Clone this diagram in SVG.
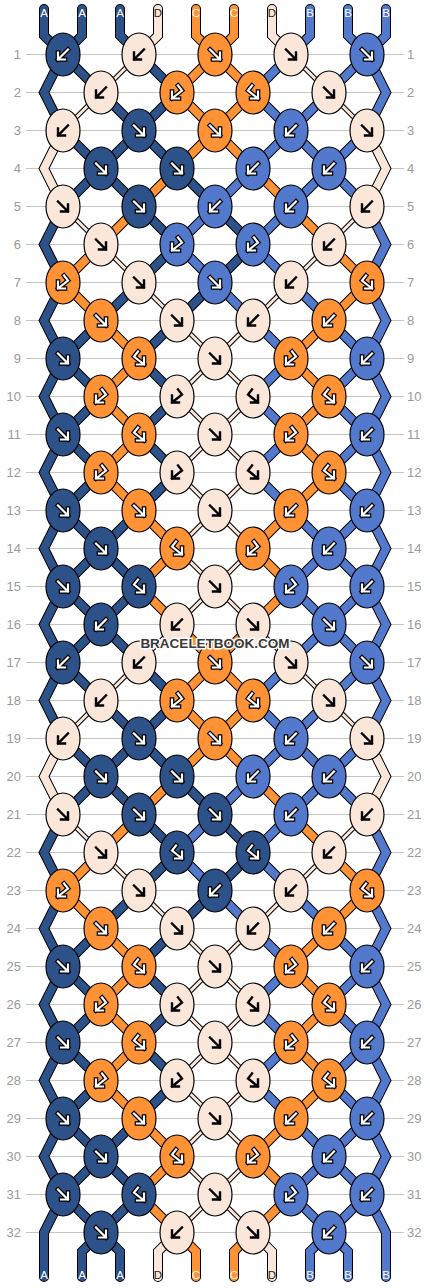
<svg xmlns="http://www.w3.org/2000/svg" xmlns:xlink="http://www.w3.org/1999/xlink" width="430" height="1288" viewBox="0 0 430 1288">
<style>
.grid{fill:none;stroke:#c4c4c4;stroke-width:1}
.rl{font-family:"Liberation Sans",Arial,sans-serif;font-size:13px;fill:#9a9a9a}
.rl.l{text-anchor:end}
.sl{font-family:"Liberation Sans",Arial,sans-serif;font-size:11.5px;text-anchor:middle;fill:#fff}
.sl.d{fill:#222}
.str use{fill:none;stroke-linecap:round;stroke-linejoin:miter}
.o{stroke:#000;stroke-width:10}
.ot{stroke:#000;stroke-width:5}
.cA{stroke:#2c5289;stroke-width:8}
.cB{stroke:#5279cc;stroke-width:8}
.cC{stroke:#fe9234;stroke-width:8}
.cD{stroke:#fbe7da;stroke-width:8}
.cDt{stroke:#fbe7da;stroke-width:3}
.wm{font-family:"Liberation Sans",Arial,sans-serif;font-size:13.5px;font-weight:bold;text-anchor:middle;fill:#383838;stroke:#fff;stroke-width:3;paint-order:stroke;stroke-linejoin:round}
</style>
<defs>
<path id="f" fill="none" stroke-linecap="square" stroke-linejoin="miter" d="M-5,-5L5,5M-2,5H5V-2"/>
<path id="b" fill="none" stroke-linecap="square" stroke-linejoin="miter" d="M5,-5L-5,5M2,5H-5V-2"/>
<path id="fb" fill="none" stroke-linecap="square" stroke-linejoin="miter" d="M-1,-7L-5,-2L5,6M-2,6H5V-1"/>
<path id="bf" fill="none" stroke-linecap="square" stroke-linejoin="miter" d="M1,-7L5,-2L-5,6M2,6H-5V-1"/>
<ellipse id="eA" rx="17" ry="21.5" fill="#2c5289" stroke="#000" stroke-width="1.2"/>
<ellipse id="eB" rx="17" ry="21.5" fill="#5279cc" stroke="#000" stroke-width="1.2"/>
<ellipse id="eC" rx="17" ry="21.5" fill="#fe9234" stroke="#000" stroke-width="1.2"/>
<ellipse id="eD" rx="17" ry="21.5" fill="#fbe7da" stroke="#000" stroke-width="1.2"/>
<g id="Af"><use href="#eA"/><use href="#f" stroke="#000" stroke-width="4.6"/><use href="#f" stroke="#fff" stroke-width="2.2"/></g>
<g id="Ab"><use href="#eA"/><use href="#b" stroke="#000" stroke-width="4.6"/><use href="#b" stroke="#fff" stroke-width="2.2"/></g>
<g id="Afb"><use href="#eA"/><use href="#fb" stroke="#000" stroke-width="4.6"/><use href="#fb" stroke="#fff" stroke-width="2.2"/></g>
<g id="Bf"><use href="#eB"/><use href="#f" stroke="#000" stroke-width="4.6"/><use href="#f" stroke="#fff" stroke-width="2.2"/></g>
<g id="Bb"><use href="#eB"/><use href="#b" stroke="#000" stroke-width="4.6"/><use href="#b" stroke="#fff" stroke-width="2.2"/></g>
<g id="Bbf"><use href="#eB"/><use href="#bf" stroke="#000" stroke-width="4.6"/><use href="#bf" stroke="#fff" stroke-width="2.2"/></g>
<g id="Cf"><use href="#eC"/><use href="#f" stroke="#000" stroke-width="4.6"/><use href="#f" stroke="#fff" stroke-width="2.2"/></g>
<g id="Cb"><use href="#eC"/><use href="#b" stroke="#000" stroke-width="4.6"/><use href="#b" stroke="#fff" stroke-width="2.2"/></g>
<g id="Cfb"><use href="#eC"/><use href="#fb" stroke="#000" stroke-width="4.6"/><use href="#fb" stroke="#fff" stroke-width="2.2"/></g>
<g id="Cbf"><use href="#eC"/><use href="#bf" stroke="#000" stroke-width="4.6"/><use href="#bf" stroke="#fff" stroke-width="2.2"/></g>
<g id="Df"><use href="#eD"/><use href="#f" stroke="#000" stroke-width="2.4"/></g>
<g id="Db"><use href="#eD"/><use href="#b" stroke="#000" stroke-width="2.4"/></g>
<g id="Dfb"><use href="#eD"/><use href="#fb" stroke="#000" stroke-width="2.4"/></g>
<g id="Dbf"><use href="#eD"/><use href="#bf" stroke="#000" stroke-width="2.4"/></g>
<path id="pA" d="M44,-7.5V19L63,38L44,76L63,114M63,190L44,228L63,266L44,304L63,342L44,380L63,418L44,456L63,494L44,532L63,570L44,608L63,646L44,684L63,722M63,798L44,836L63,874L44,912L63,950L44,988L63,1026L44,1064L63,1102L44,1140L63,1178L44,1216V1260.5M82,-7.5V19L63,38L101,76M63,114L101,152L63,190M101,304L63,342L101,380L63,418L101,456L63,494L101,532L63,570L101,608L63,646L101,684M63,722L101,760L63,798M101,912L63,950L101,988L63,1026L101,1064L63,1102L101,1140L63,1178L101,1216L82,1235V1260.5M120,-7.5V19L139,38M101,76L139,114L101,152L139,190M139,266L101,304M139,494L101,532L139,570L101,608L139,646M101,684L139,722L101,760L139,798M139,874L101,912M139,1102L101,1140L139,1178L101,1216L120,1235V1260.5M139,38L177,76L139,114L177,152M139,190L177,228L139,266M177,304L139,342L177,380L139,418L177,456L139,494M139,646L177,684L139,722L177,760M139,798L177,836L139,874M177,912L139,950L177,988L139,1026L177,1064L139,1102M177,152L215,190M215,266L177,304M177,760L215,798M215,874L177,912M215,190L253,228L215,266M215,798L253,836L215,874"/>
<path id="pB" d="M386,-7.5V19L367,38L386,76L367,114M367,190L386,228L367,266L386,304L367,342L386,380L367,418L386,456L367,494L386,532L367,570L386,608L367,646L386,684L367,722M367,798L386,836L367,874L386,912L367,950L386,988L367,1026L386,1064L367,1102L386,1140L367,1178L386,1216V1260.5M348,-7.5V19L367,38L329,76M367,114L329,152L367,190M329,304L367,342L329,380L367,418L329,456L367,494L329,532L367,570L329,608L367,646L329,684M367,722L329,760L367,798M329,912L367,950L329,988L367,1026L329,1064L367,1102L329,1140L367,1178L329,1216L348,1235V1260.5M310,-7.5V19L291,38M329,76L291,114L329,152L291,190M291,266L329,304M291,494L329,532L291,570L329,608L291,646M329,684L291,722L329,760L291,798M291,874L329,912M291,1102L329,1140L291,1178L329,1216L310,1235V1260.5M291,38L253,76L291,114L253,152M291,190L253,228L291,266M253,304L291,342L253,380L291,418L253,456L291,494M291,646L253,684L291,722L253,760M291,798L253,836L291,874M253,912L291,950L253,988L291,1026L253,1064L291,1102M253,152L215,190M215,266L253,304M253,760L215,798M215,874L253,912M215,190L177,228L215,266M215,798L177,836L215,874"/>
<path id="pC" d="M101,228L63,266L101,304M101,836L63,874L101,912M329,228L367,266L329,304M329,836L367,874L329,912M139,190L101,228M101,304L139,342L101,380L139,418L101,456L139,494M139,798L101,836M101,912L139,950L101,988L139,1026L101,1064L139,1102M291,190L329,228M329,304L291,342L329,380L291,418L329,456L291,494M291,798L329,836M329,912L291,950L329,988L291,1026L329,1064L291,1102M177,152L139,190M139,494L177,532L139,570L177,608M177,760L139,798M139,1102L177,1140L139,1178L177,1216M253,152L291,190M291,494L253,532L291,570L253,608M253,760L291,798M291,1102L253,1140L291,1178L253,1216M196,-7.5V19L215,38L177,76L215,114L177,152M177,608L215,646L177,684L215,722L177,760M177,1216L196,1235V1260.5M234,-7.5V19L215,38L253,76L215,114L253,152M253,608L215,646L253,684L215,722L253,760M253,1216L234,1235V1260.5"/>
<path id="pD" d="M63,114L44,152L63,190M63,722L44,760L63,798M367,114L386,152L367,190M367,722L386,760L367,798M158,-7.5V19L139,38M272,-7.5V19L291,38M177,1216L158,1235V1260.5M253,1216L272,1235V1260.5"/>
<path id="pDt" d="M101,76L63,114M63,190L101,228M101,684L63,722M63,798L101,836M329,76L367,114M367,190L329,228M329,684L367,722M367,798L329,836M139,38L101,76M101,228L139,266M139,646L101,684M101,836L139,874M291,38L329,76M329,228L291,266M291,646L329,684M329,836L291,874M139,266L177,304M177,608L139,646M139,874L177,912M291,266L253,304M253,608L291,646M291,874L253,912M177,304L215,342L177,380L215,418L177,456L215,494L177,532L215,570L177,608M177,912L215,950L177,988L215,1026L177,1064L215,1102L177,1140L215,1178L177,1216M253,304L215,342L253,380L215,418L253,456L215,494L253,532L215,570L253,608M253,912L215,950L253,988L215,1026L253,1064L215,1102L253,1140L215,1178L253,1216"/>
</defs>
<rect width="430" height="1288" fill="#fff"/>
<g transform="translate(0,16.5)">
<path class="grid" d="M26,38H404M26,76H404M26,114H404M26,152H404M26,190H404M26,228H404M26,266H404M26,304H404M26,342H404M26,380H404M26,418H404M26,456H404M26,494H404M26,532H404M26,570H404M26,608H404M26,646H404M26,684H404M26,722H404M26,760H404M26,798H404M26,836H404M26,874H404M26,912H404M26,950H404M26,988H404M26,1026H404M26,1064H404M26,1102H404M26,1140H404M26,1178H404M26,1216H404"/>
<g id="rowlabels">
<text class="rl l" x="21" y="42.6">1</text><text class="rl" x="407" y="42.6">1</text>
<text class="rl l" x="21" y="80.6">2</text><text class="rl" x="407" y="80.6">2</text>
<text class="rl l" x="21" y="118.6">3</text><text class="rl" x="407" y="118.6">3</text>
<text class="rl l" x="21" y="156.6">4</text><text class="rl" x="407" y="156.6">4</text>
<text class="rl l" x="21" y="194.6">5</text><text class="rl" x="407" y="194.6">5</text>
<text class="rl l" x="21" y="232.6">6</text><text class="rl" x="407" y="232.6">6</text>
<text class="rl l" x="21" y="270.6">7</text><text class="rl" x="407" y="270.6">7</text>
<text class="rl l" x="21" y="308.6">8</text><text class="rl" x="407" y="308.6">8</text>
<text class="rl l" x="21" y="346.6">9</text><text class="rl" x="407" y="346.6">9</text>
<text class="rl l" x="21" y="384.6">10</text><text class="rl" x="407" y="384.6">10</text>
<text class="rl l" x="21" y="422.6">11</text><text class="rl" x="407" y="422.6">11</text>
<text class="rl l" x="21" y="460.6">12</text><text class="rl" x="407" y="460.6">12</text>
<text class="rl l" x="21" y="498.6">13</text><text class="rl" x="407" y="498.6">13</text>
<text class="rl l" x="21" y="536.6">14</text><text class="rl" x="407" y="536.6">14</text>
<text class="rl l" x="21" y="574.6">15</text><text class="rl" x="407" y="574.6">15</text>
<text class="rl l" x="21" y="612.6">16</text><text class="rl" x="407" y="612.6">16</text>
<text class="rl l" x="21" y="650.6">17</text><text class="rl" x="407" y="650.6">17</text>
<text class="rl l" x="21" y="688.6">18</text><text class="rl" x="407" y="688.6">18</text>
<text class="rl l" x="21" y="726.6">19</text><text class="rl" x="407" y="726.6">19</text>
<text class="rl l" x="21" y="764.6">20</text><text class="rl" x="407" y="764.6">20</text>
<text class="rl l" x="21" y="802.6">21</text><text class="rl" x="407" y="802.6">21</text>
<text class="rl l" x="21" y="840.6">22</text><text class="rl" x="407" y="840.6">22</text>
<text class="rl l" x="21" y="878.6">23</text><text class="rl" x="407" y="878.6">23</text>
<text class="rl l" x="21" y="916.6">24</text><text class="rl" x="407" y="916.6">24</text>
<text class="rl l" x="21" y="954.6">25</text><text class="rl" x="407" y="954.6">25</text>
<text class="rl l" x="21" y="992.6">26</text><text class="rl" x="407" y="992.6">26</text>
<text class="rl l" x="21" y="1030.6">27</text><text class="rl" x="407" y="1030.6">27</text>
<text class="rl l" x="21" y="1068.6">28</text><text class="rl" x="407" y="1068.6">28</text>
<text class="rl l" x="21" y="1106.6">29</text><text class="rl" x="407" y="1106.6">29</text>
<text class="rl l" x="21" y="1144.6">30</text><text class="rl" x="407" y="1144.6">30</text>
<text class="rl l" x="21" y="1182.6">31</text><text class="rl" x="407" y="1182.6">31</text>
<text class="rl l" x="21" y="1220.6">32</text><text class="rl" x="407" y="1220.6">32</text>
</g>
<g id="connectors" class="str">
<use href="#pA" class="o"/><use href="#pB" class="o"/><use href="#pC" class="o"/><use href="#pD" class="o"/><use href="#pDt" class="ot"/>
<use href="#pA" class="cA"/><use href="#pB" class="cB"/><use href="#pC" class="cC"/><use href="#pD" class="cD"/><use href="#pDt" class="cDt"/>
</g>
<g id="knots">
<g id="k1-1" transform="translate(63,38)"><use href="#Ab"/></g><g id="k1-2" transform="translate(139,38)"><use href="#Db"/></g><g id="k1-3" transform="translate(215,38)"><use href="#Cf"/></g><g id="k1-4" transform="translate(291,38)"><use href="#Df"/></g><g id="k1-5" transform="translate(367,38)"><use href="#Bf"/></g>
<g id="k2-1" transform="translate(101,76)"><use href="#Db"/></g><g id="k2-2" transform="translate(177,76)"><use href="#Cbf"/></g><g id="k2-3" transform="translate(253,76)"><use href="#Cfb"/></g><g id="k2-4" transform="translate(329,76)"><use href="#Df"/></g>
<g id="k3-1" transform="translate(63,114)"><use href="#Db"/></g><g id="k3-2" transform="translate(139,114)"><use href="#Af"/></g><g id="k3-3" transform="translate(215,114)"><use href="#Cf"/></g><g id="k3-4" transform="translate(291,114)"><use href="#Bb"/></g><g id="k3-5" transform="translate(367,114)"><use href="#Df"/></g>
<g id="k4-1" transform="translate(101,152)"><use href="#Af"/></g><g id="k4-2" transform="translate(177,152)"><use href="#Af"/></g><g id="k4-3" transform="translate(253,152)"><use href="#Bb"/></g><g id="k4-4" transform="translate(329,152)"><use href="#Bb"/></g>
<g id="k5-1" transform="translate(63,190)"><use href="#Df"/></g><g id="k5-2" transform="translate(139,190)"><use href="#Af"/></g><g id="k5-3" transform="translate(215,190)"><use href="#Bb"/></g><g id="k5-4" transform="translate(291,190)"><use href="#Bb"/></g><g id="k5-5" transform="translate(367,190)"><use href="#Db"/></g>
<g id="k6-1" transform="translate(101,228)"><use href="#Df"/></g><g id="k6-2" transform="translate(177,228)"><use href="#Bbf"/></g><g id="k6-3" transform="translate(253,228)"><use href="#Bbf"/></g><g id="k6-4" transform="translate(329,228)"><use href="#Db"/></g>
<g id="k7-1" transform="translate(63,266)"><use href="#Cbf"/></g><g id="k7-2" transform="translate(139,266)"><use href="#Df"/></g><g id="k7-3" transform="translate(215,266)"><use href="#Bf"/></g><g id="k7-4" transform="translate(291,266)"><use href="#Db"/></g><g id="k7-5" transform="translate(367,266)"><use href="#Cfb"/></g>
<g id="k8-1" transform="translate(101,304)"><use href="#Cf"/></g><g id="k8-2" transform="translate(177,304)"><use href="#Df"/></g><g id="k8-3" transform="translate(253,304)"><use href="#Db"/></g><g id="k8-4" transform="translate(329,304)"><use href="#Cb"/></g>
<g id="k9-1" transform="translate(63,342)"><use href="#Af"/></g><g id="k9-2" transform="translate(139,342)"><use href="#Cfb"/></g><g id="k9-3" transform="translate(215,342)"><use href="#Df"/></g><g id="k9-4" transform="translate(291,342)"><use href="#Cbf"/></g><g id="k9-5" transform="translate(367,342)"><use href="#Bb"/></g>
<g id="k10-1" transform="translate(101,380)"><use href="#Cbf"/></g><g id="k10-2" transform="translate(177,380)"><use href="#Dbf"/></g><g id="k10-3" transform="translate(253,380)"><use href="#Dfb"/></g><g id="k10-4" transform="translate(329,380)"><use href="#Cfb"/></g>
<g id="k11-1" transform="translate(63,418)"><use href="#Af"/></g><g id="k11-2" transform="translate(139,418)"><use href="#Cfb"/></g><g id="k11-3" transform="translate(215,418)"><use href="#Df"/></g><g id="k11-4" transform="translate(291,418)"><use href="#Cbf"/></g><g id="k11-5" transform="translate(367,418)"><use href="#Bb"/></g>
<g id="k12-1" transform="translate(101,456)"><use href="#Cbf"/></g><g id="k12-2" transform="translate(177,456)"><use href="#Dbf"/></g><g id="k12-3" transform="translate(253,456)"><use href="#Dfb"/></g><g id="k12-4" transform="translate(329,456)"><use href="#Cfb"/></g>
<g id="k13-1" transform="translate(63,494)"><use href="#Af"/></g><g id="k13-2" transform="translate(139,494)"><use href="#Cf"/></g><g id="k13-3" transform="translate(215,494)"><use href="#Df"/></g><g id="k13-4" transform="translate(291,494)"><use href="#Cb"/></g><g id="k13-5" transform="translate(367,494)"><use href="#Bb"/></g>
<g id="k14-1" transform="translate(101,532)"><use href="#Af"/></g><g id="k14-2" transform="translate(177,532)"><use href="#Cfb"/></g><g id="k14-3" transform="translate(253,532)"><use href="#Cbf"/></g><g id="k14-4" transform="translate(329,532)"><use href="#Bb"/></g>
<g id="k15-1" transform="translate(63,570)"><use href="#Af"/></g><g id="k15-2" transform="translate(139,570)"><use href="#Afb"/></g><g id="k15-3" transform="translate(215,570)"><use href="#Df"/></g><g id="k15-4" transform="translate(291,570)"><use href="#Bbf"/></g><g id="k15-5" transform="translate(367,570)"><use href="#Bb"/></g>
<g id="k16-1" transform="translate(101,608)"><use href="#Ab"/></g><g id="k16-2" transform="translate(177,608)"><use href="#Db"/></g><g id="k16-3" transform="translate(253,608)"><use href="#Df"/></g><g id="k16-4" transform="translate(329,608)"><use href="#Bf"/></g>
<g id="k17-1" transform="translate(63,646)"><use href="#Ab"/></g><g id="k17-2" transform="translate(139,646)"><use href="#Db"/></g><g id="k17-3" transform="translate(215,646)"><use href="#Cf"/></g><g id="k17-4" transform="translate(291,646)"><use href="#Df"/></g><g id="k17-5" transform="translate(367,646)"><use href="#Bf"/></g>
<g id="k18-1" transform="translate(101,684)"><use href="#Db"/></g><g id="k18-2" transform="translate(177,684)"><use href="#Cbf"/></g><g id="k18-3" transform="translate(253,684)"><use href="#Cfb"/></g><g id="k18-4" transform="translate(329,684)"><use href="#Df"/></g>
<g id="k19-1" transform="translate(63,722)"><use href="#Db"/></g><g id="k19-2" transform="translate(139,722)"><use href="#Af"/></g><g id="k19-3" transform="translate(215,722)"><use href="#Cf"/></g><g id="k19-4" transform="translate(291,722)"><use href="#Bb"/></g><g id="k19-5" transform="translate(367,722)"><use href="#Df"/></g>
<g id="k20-1" transform="translate(101,760)"><use href="#Af"/></g><g id="k20-2" transform="translate(177,760)"><use href="#Af"/></g><g id="k20-3" transform="translate(253,760)"><use href="#Bb"/></g><g id="k20-4" transform="translate(329,760)"><use href="#Bb"/></g>
<g id="k21-1" transform="translate(63,798)"><use href="#Df"/></g><g id="k21-2" transform="translate(139,798)"><use href="#Af"/></g><g id="k21-3" transform="translate(215,798)"><use href="#Af"/></g><g id="k21-4" transform="translate(291,798)"><use href="#Bb"/></g><g id="k21-5" transform="translate(367,798)"><use href="#Db"/></g>
<g id="k22-1" transform="translate(101,836)"><use href="#Df"/></g><g id="k22-2" transform="translate(177,836)"><use href="#Afb"/></g><g id="k22-3" transform="translate(253,836)"><use href="#Afb"/></g><g id="k22-4" transform="translate(329,836)"><use href="#Db"/></g>
<g id="k23-1" transform="translate(63,874)"><use href="#Cbf"/></g><g id="k23-2" transform="translate(139,874)"><use href="#Df"/></g><g id="k23-3" transform="translate(215,874)"><use href="#Ab"/></g><g id="k23-4" transform="translate(291,874)"><use href="#Db"/></g><g id="k23-5" transform="translate(367,874)"><use href="#Cfb"/></g>
<g id="k24-1" transform="translate(101,912)"><use href="#Cf"/></g><g id="k24-2" transform="translate(177,912)"><use href="#Df"/></g><g id="k24-3" transform="translate(253,912)"><use href="#Db"/></g><g id="k24-4" transform="translate(329,912)"><use href="#Cb"/></g>
<g id="k25-1" transform="translate(63,950)"><use href="#Af"/></g><g id="k25-2" transform="translate(139,950)"><use href="#Cfb"/></g><g id="k25-3" transform="translate(215,950)"><use href="#Df"/></g><g id="k25-4" transform="translate(291,950)"><use href="#Cbf"/></g><g id="k25-5" transform="translate(367,950)"><use href="#Bb"/></g>
<g id="k26-1" transform="translate(101,988)"><use href="#Cbf"/></g><g id="k26-2" transform="translate(177,988)"><use href="#Dbf"/></g><g id="k26-3" transform="translate(253,988)"><use href="#Dfb"/></g><g id="k26-4" transform="translate(329,988)"><use href="#Cfb"/></g>
<g id="k27-1" transform="translate(63,1026)"><use href="#Af"/></g><g id="k27-2" transform="translate(139,1026)"><use href="#Cfb"/></g><g id="k27-3" transform="translate(215,1026)"><use href="#Df"/></g><g id="k27-4" transform="translate(291,1026)"><use href="#Cbf"/></g><g id="k27-5" transform="translate(367,1026)"><use href="#Bb"/></g>
<g id="k28-1" transform="translate(101,1064)"><use href="#Cbf"/></g><g id="k28-2" transform="translate(177,1064)"><use href="#Dbf"/></g><g id="k28-3" transform="translate(253,1064)"><use href="#Dfb"/></g><g id="k28-4" transform="translate(329,1064)"><use href="#Cfb"/></g>
<g id="k29-1" transform="translate(63,1102)"><use href="#Af"/></g><g id="k29-2" transform="translate(139,1102)"><use href="#Cf"/></g><g id="k29-3" transform="translate(215,1102)"><use href="#Df"/></g><g id="k29-4" transform="translate(291,1102)"><use href="#Cb"/></g><g id="k29-5" transform="translate(367,1102)"><use href="#Bb"/></g>
<g id="k30-1" transform="translate(101,1140)"><use href="#Af"/></g><g id="k30-2" transform="translate(177,1140)"><use href="#Cfb"/></g><g id="k30-3" transform="translate(253,1140)"><use href="#Cbf"/></g><g id="k30-4" transform="translate(329,1140)"><use href="#Bb"/></g>
<g id="k31-1" transform="translate(63,1178)"><use href="#Af"/></g><g id="k31-2" transform="translate(139,1178)"><use href="#Afb"/></g><g id="k31-3" transform="translate(215,1178)"><use href="#Df"/></g><g id="k31-4" transform="translate(291,1178)"><use href="#Bbf"/></g><g id="k31-5" transform="translate(367,1178)"><use href="#Bb"/></g>
<g id="k32-1" transform="translate(101,1216)"><use href="#Af"/></g><g id="k32-2" transform="translate(177,1216)"><use href="#Db"/></g><g id="k32-3" transform="translate(253,1216)"><use href="#Df"/></g><g id="k32-4" transform="translate(329,1216)"><use href="#Bb"/></g>
</g>
<g id="stringlabels">
<text class="sl" x="44" y="0.2">A</text><text class="sl" x="82" y="0.2">A</text><text class="sl" x="120" y="0.2">A</text><text class="sl d" x="158" y="0.2">D</text><text class="sl" x="196" y="0.2">C</text><text class="sl" x="234" y="0.2">C</text><text class="sl d" x="272" y="0.2">D</text><text class="sl" x="310" y="0.2">B</text><text class="sl" x="348" y="0.2">B</text><text class="sl" x="386" y="0.2">B</text>
<text class="sl" x="44" y="1262.8">A</text><text class="sl" x="82" y="1262.8">A</text><text class="sl" x="120" y="1262.8">A</text><text class="sl d" x="158" y="1262.8">D</text><text class="sl" x="196" y="1262.8">C</text><text class="sl" x="234" y="1262.8">C</text><text class="sl d" x="272" y="1262.8">D</text><text class="sl" x="310" y="1262.8">B</text><text class="sl" x="348" y="1262.8">B</text><text class="sl" x="386" y="1262.8">B</text>
</g>
<text class="wm" x="215" y="631.5">BRACELETBOOK.COM</text>
</g>
</svg>
